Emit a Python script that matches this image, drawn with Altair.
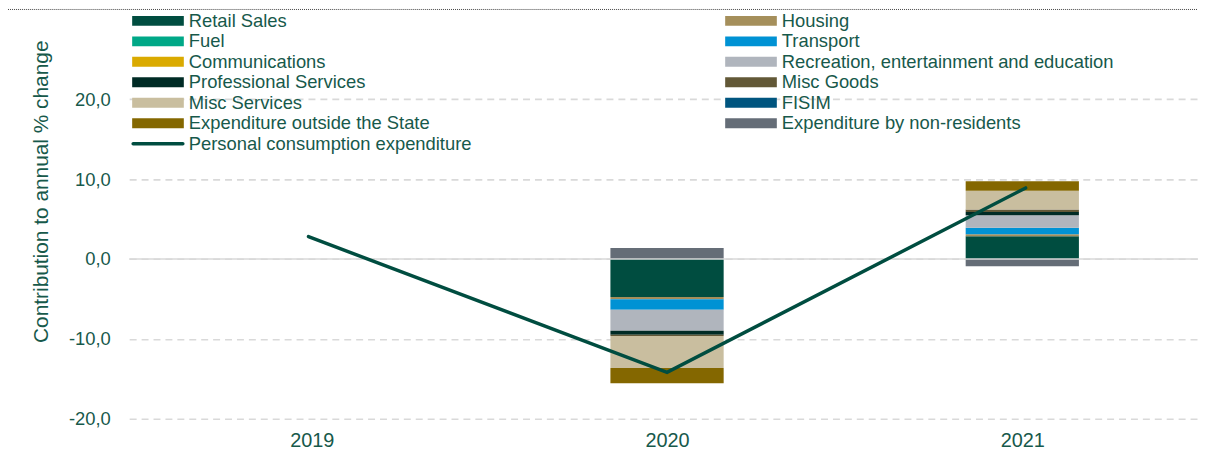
import altair as alt
import pandas as pd

years = [2019, 2020, 2021]
categories = [
    "Retail Sales", "Housing", "Fuel", "Transport", "Communications",
    "Recreation, entertainment and education", "Professional Services",
    "Misc Goods", "Misc Services", "FISIM", "Expenditure outside the State",
    "Expenditure by non-residents",
]
colors = [
    "#004D40", "#A58F5B", "#00A887", "#0092D4", "#DAAA00", "#B0B5BD",
    "#002B25", "#625837", "#C9BE9F", "#00557F", "#846700", "#656D77",
]
values_2019 = [0, 0, 0, 0, 0, 0, 0, 0, 0, 0, 0, 0]
values_2020 = [-4.77, -0.27, 0, -1.3, 0, -2.65, -0.5, -0.15, -4.0, 0, -1.93, 1.37]
values_2021 = [2.86, 0.25, 0, 0.8, 0, 1.58, 0.4, 0.3, 2.37, 0, 1.16, -0.9]
pce_label = "Personal consumption expenditure"
pce_values = [2.8, -14.2, 8.9]
y_ticks = [-20, -10, 0, 10, 20]

TXT = "#17594B"
FONT = "Liberation Sans"

W, H = 1076, 402
PX_PER_YEAR = 361
x_min = 2018.5
x_max = x_min + W / PX_PER_YEAR

rows = []
for yr, vals in zip(years, [values_2019, values_2020, values_2021]):
    for i, (c, v) in enumerate(zip(categories, vals)):
        rows.append({"year": yr, "category": c, "value": v, "order": i})
bars_df = pd.DataFrame(rows)
line_df = pd.DataFrame({"year": years, "pce": pce_values})

xscale = alt.Scale(domain=[x_min, x_max], nice=False, zero=False)
yscale = alt.Scale(domain=[-20, 30], nice=False, zero=False)

bars = alt.Chart(bars_df).mark_bar(size=114).encode(
    x=alt.X("year:Q", scale=xscale,
            axis=alt.Axis(values=years, format="d", grid=False, domain=False,
                          ticks=False, labelPadding=12, labelFontSize=20,
                          labelColor=TXT, labelFont=FONT, title=None)),
    y=alt.Y("value:Q", stack="zero", scale=yscale,
            axis=alt.Axis(values=y_ticks,
                          labelExpr="(datum.value < 0 ? '-' : '') + replace(format(abs(datum.value), '.1f'), '.', ',')",
                          grid=True, gridDash=[7, 5], gridColor="#D9D9D9",
                          gridWidth=1.6, domain=False, ticks=False,
                          labelPadding=19, labelFontSize=18.5, labelColor=TXT,
                          labelFont=FONT,
                          title="Contribution to annual % change",
                          titleFont=FONT, titleFontSize=21, titleColor=TXT,
                          titleFontWeight="normal", titleX=-88, titleY=173,
                          titleBaseline="middle", titleAngle=-90)),
    color=alt.Color("category:N", scale=alt.Scale(domain=categories, range=colors),
                    legend=None),
    order=alt.Order("order:Q", sort="ascending"),
)

zero_rule = alt.Chart(pd.DataFrame({"z": [0]})).mark_rule(
    color="#D9D9D9", strokeWidth=1.6
).encode(y=alt.Y("z:Q", scale=yscale, axis=None))

line = alt.Chart(line_df).mark_line(
    color="#004D40", strokeWidth=3.5, strokeCap="round", strokeJoin="miter"
).encode(
    x=alt.X("year:Q", scale=xscale, axis=None),
    y=alt.Y("pce:Q", scale=yscale, axis=None),
)

# manual two-column legend (Excel ordering: row-major)
leg_rows = []
for i, (c, col) in enumerate(zip(categories, colors)):
    r, k = i // 2, i % 2
    x0 = 3 if k == 0 else 600
    yc = 1.5 + r * 20.6
    leg_rows.append({"name": c, "color": col, "x0": x0, "x1": x0 + 52,
                     "y0": yc - 5, "y1": yc + 5, "tx": x0 + 57, "ty": yc})
leg_df = pd.DataFrame(leg_rows)

leg_sym = alt.Chart(leg_df).mark_rect().encode(
    x=alt.X("x0:Q", scale=None, axis=None), x2="x1:Q",
    y=alt.Y("y0:Q", scale=None, axis=None), y2="y1:Q",
    color=alt.Color("color:N", scale=None, legend=None),
)
leg_txt = alt.Chart(leg_df).mark_text(
    align="left", baseline="middle", fontSize=18.5, font=FONT, color=TXT
).encode(
    x=alt.X("tx:Q", scale=None, axis=None),
    y=alt.Y("ty:Q", scale=None, axis=None),
    text="name:N",
)
line_leg_df = pd.DataFrame({"name": [pce_label], "x0": [4], "x1": [54],
                            "y": [1.5 + 6 * 20.6], "tx": [60]})
line_leg = alt.Chart(line_leg_df).mark_rule(
    color="#004D40", strokeWidth=3.5, strokeCap="round"
).encode(
    x=alt.X("x0:Q", scale=None, axis=None), x2="x1:Q",
    y=alt.Y("y:Q", scale=None, axis=None),
)
line_leg_txt = alt.Chart(line_leg_df).mark_text(
    align="left", baseline="middle", fontSize=18.5, font=FONT, color=TXT
).encode(
    x=alt.X("tx:Q", scale=None, axis=None),
    y=alt.Y("y:Q", scale=None, axis=None),
    text="name:N",
)

top_rule = alt.Chart(pd.DataFrame({"a": [0]})).mark_rule(
    color="#444444", strokeWidth=1, strokeDash=[1, 1]
).encode(x=alt.value(-122), x2=alt.value(W), y=alt.value(-10))

chart = alt.layer(
    bars, zero_rule, line, leg_sym, leg_txt, line_leg, line_leg_txt, top_rule
).resolve_scale(
    x="independent", y="independent", color="independent"
).properties(
    width=W, height=H,
    padding={"left": 122, "top": 10, "right": 0, "bottom": 31},
    autosize=alt.AutoSizeParams(type="none"),
).configure_view(stroke=None)

chart.save("out.html", embed_options={"renderer": "svg", "actions": False})
